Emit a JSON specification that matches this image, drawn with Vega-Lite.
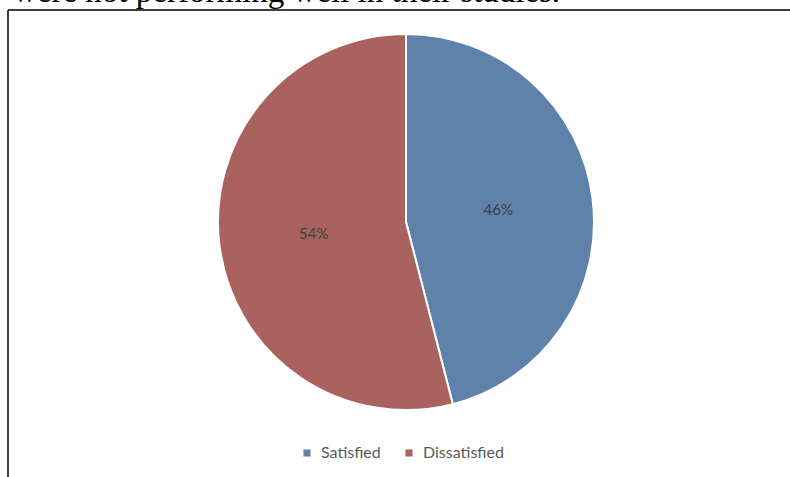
{
  "$schema": "https://vega.github.io/schema/vega-lite/v6.json",
  "width": 782,
  "height": 467,
  "autosize": {"type": "none"},
  "padding": {"left": 8, "top": 10, "right": 0, "bottom": 0},
  "background": "white",
  "view": {"stroke": "#000000", "strokeWidth": 1.5, "strokeDash": [782, 1249, 467, 0]},
  "title": {
    "text": "were not performing well in their studies.",
    "anchor": "start",
    "frame": "group",
    "baseline": "alphabetic",
    "offset": 0,
    "dx": 5,
    "dy": 25,
    "font": "Liberation Serif",
    "fontSize": 33,
    "fontWeight": "normal",
    "color": "#000000"
  },
  "data": {
    "values": [
      {"response": "Satisfied", "share": 0.46, "order": 1},
      {"response": "Dissatisfied", "share": 0.54, "order": 2}
    ]
  },
  "encoding": {
    "theta": {"field": "share", "type": "quantitative", "stack": true},
    "order": {"field": "order", "type": "quantitative"}
  },
  "layer": [
    {
      "mark": {"type": "arc", "outerRadius": 188, "stroke": "white", "strokeWidth": 2, "xOffset": 7, "yOffset": -21.5},
      "encoding": {
        "color": {
          "field": "response",
          "type": "nominal",
          "scale": {"domain": ["Satisfied", "Dissatisfied"], "range": ["#5f82ab", "#aa625f"]},
          "legend": {
            "title": null,
            "orient": "none",
            "direction": "horizontal",
            "legendX": 291,
            "legendY": 435,
            "symbolType": "square",
            "symbolSize": 50,
            "symbolStrokeWidth": 0,
            "labelFont": "Lato",
            "labelFontSize": 16,
            "labelColor": "#595959",
            "columnPadding": 20,
            "labelOffset": 6
          }
        }
      }
    },
    {
      "mark": {"type": "text", "radius": 93, "xOffset": 7, "yOffset": -21.5, "font": "Lato", "fontSize": 15, "fill": "#404040"},
      "encoding": {
        "text": {"field": "share", "type": "quantitative", "format": ".0%"}
      }
    }
  ]
}
